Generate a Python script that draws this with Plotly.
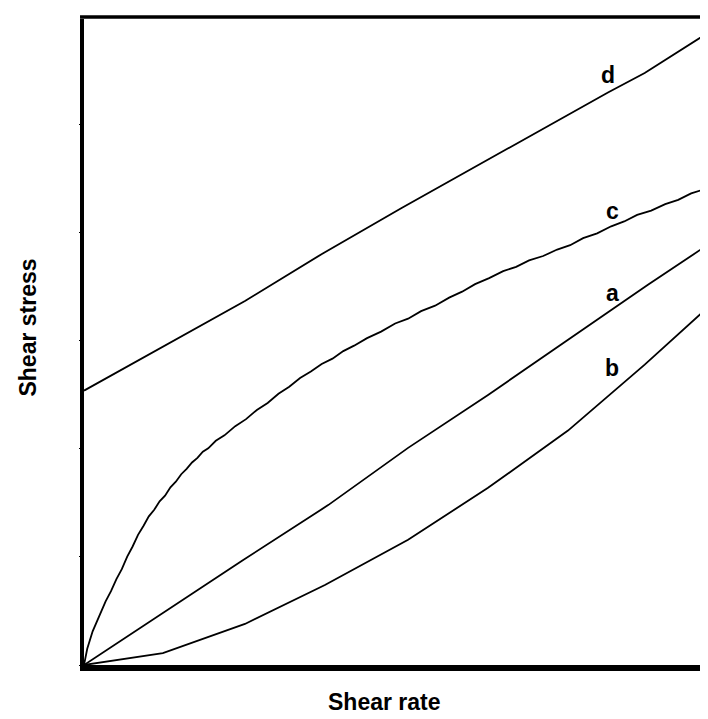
import plotly.graph_objects as go

# Curve a (Newtonian)
a_x = [0, 0.73, 1.47, 2.26, 3.00, 3.74, 4.48, 5.22, 5.85]
a_y = [0, 0.48, 0.97, 1.48, 2.01, 2.50, 3.01, 3.52, 3.94]

# Curve b (shear thickening)
b_x = [0, 0.73, 1.49, 2.23, 3.00, 3.74, 4.48, 5.19, 5.85]
b_y = [0, 0.11, 0.38, 0.74, 1.16, 1.64, 2.17, 2.78, 3.38]

# Curve c (shear thinning, digitised measurement with slight jitter)
c_x = [0, 0.03, 0.08, 0.15, 0.20, 0.25, 0.30, 0.35, 0.40, 0.45, 0.50, 0.55,
       0.60, 0.65, 0.70, 0.75, 0.80, 0.85, 0.90, 0.95, 1.00, 1.05, 1.10, 1.15,
       1.22, 1.30, 1.40, 1.50, 1.60, 1.70, 1.80, 1.90, 2.00, 2.10, 2.20, 2.30,
       2.40, 2.50, 2.62, 2.75, 2.88, 3.00, 3.12, 3.25, 3.38, 3.50, 3.62, 3.75,
       3.88, 4.00, 4.12, 4.25, 4.38, 4.50, 4.62, 4.75, 4.88, 5.00, 5.12, 5.25,
       5.38, 5.50, 5.62, 5.75, 5.85]
c_y = [0, 0.150, 0.312, 0.478, 0.589, 0.683, 0.795, 0.887, 1.004, 1.097, 1.205, 1.287,
       1.376, 1.437, 1.515, 1.567, 1.645, 1.697, 1.766, 1.816, 1.875, 1.917, 1.975, 2.006,
       2.076, 2.126, 2.211, 2.276, 2.361, 2.426, 2.511, 2.576, 2.656, 2.716, 2.786, 2.836,
       2.906, 2.956, 3.026, 3.086, 3.161, 3.206, 3.276, 3.326, 3.401, 3.456, 3.526, 3.581,
       3.646, 3.686, 3.746, 3.786, 3.846, 3.886, 3.951, 3.996, 4.061, 4.106, 4.166, 4.206,
       4.266, 4.306, 4.366, 4.406, 4.440]

# Curve d (Bingham plastic)
d_x = [0, 1.49, 2.21, 2.94, 4.85, 5.19, 5.85]
d_y = [2.54, 3.37, 3.81, 4.23, 5.30, 5.48, 5.90]

labels = ["a", "b", "c", "d"]
label_x = [4.89, 4.89, 4.89, 4.85]
label_y = [3.44, 2.75, 4.20, 5.46]

x_title = "Shear rate"
y_title = "Shear stress"

fig = go.Figure()
for xs, ys in [(a_x, a_y), (b_x, b_y), (c_x, c_y), (d_x, d_y)]:
    fig.add_trace(go.Scatter(x=xs, y=ys, mode="lines",
                             line=dict(color="black", width=1.8),
                             showlegend=False, hoverinfo="skip"))

font_main = dict(family="Arial, Liberation Sans, sans-serif", size=23,
                 color="black", weight="bold")

for t, x, y in zip(labels, label_x, label_y):
    fig.add_annotation(x=x, y=y, text=t, showarrow=False, font=font_main,
                       xanchor="center", yanchor="middle")

fig.add_annotation(xref="paper", yref="paper", x=0.475, y=-0.058,
                   text=x_title, showarrow=False, font=font_main,
                   xanchor="center", yanchor="middle")
fig.add_annotation(xref="paper", yref="paper", x=-0.089, y=0.522,
                   text=y_title, showarrow=False, font=font_main,
                   textangle=-90, xanchor="center", yanchor="middle")

# top border line
fig.add_shape(type="line", xref="paper", yref="paper",
              x0=-0.0063, x1=1, y0=1.003, y1=1.003,
              line=dict(color="black", width=3.5))

fig.update_xaxes(range=[0, 5.85], showline=True, linewidth=6, linecolor="black",
                 showgrid=False, zeroline=False, showticklabels=False, ticks="")
fig.update_yaxes(range=[0, 5.98], showline=True, linewidth=4, linecolor="black",
                 showgrid=False, zeroline=False, showticklabels=False,
                 ticks="outside", ticklen=1, tickwidth=1, tickcolor="black",
                 tick0=0, dtick=1)

fig.update_layout(width=708, height=719,
                  margin=dict(l=76, r=0, t=11, b=62),
                  paper_bgcolor="white", plot_bgcolor="white")

fig.write_html("out.html")
